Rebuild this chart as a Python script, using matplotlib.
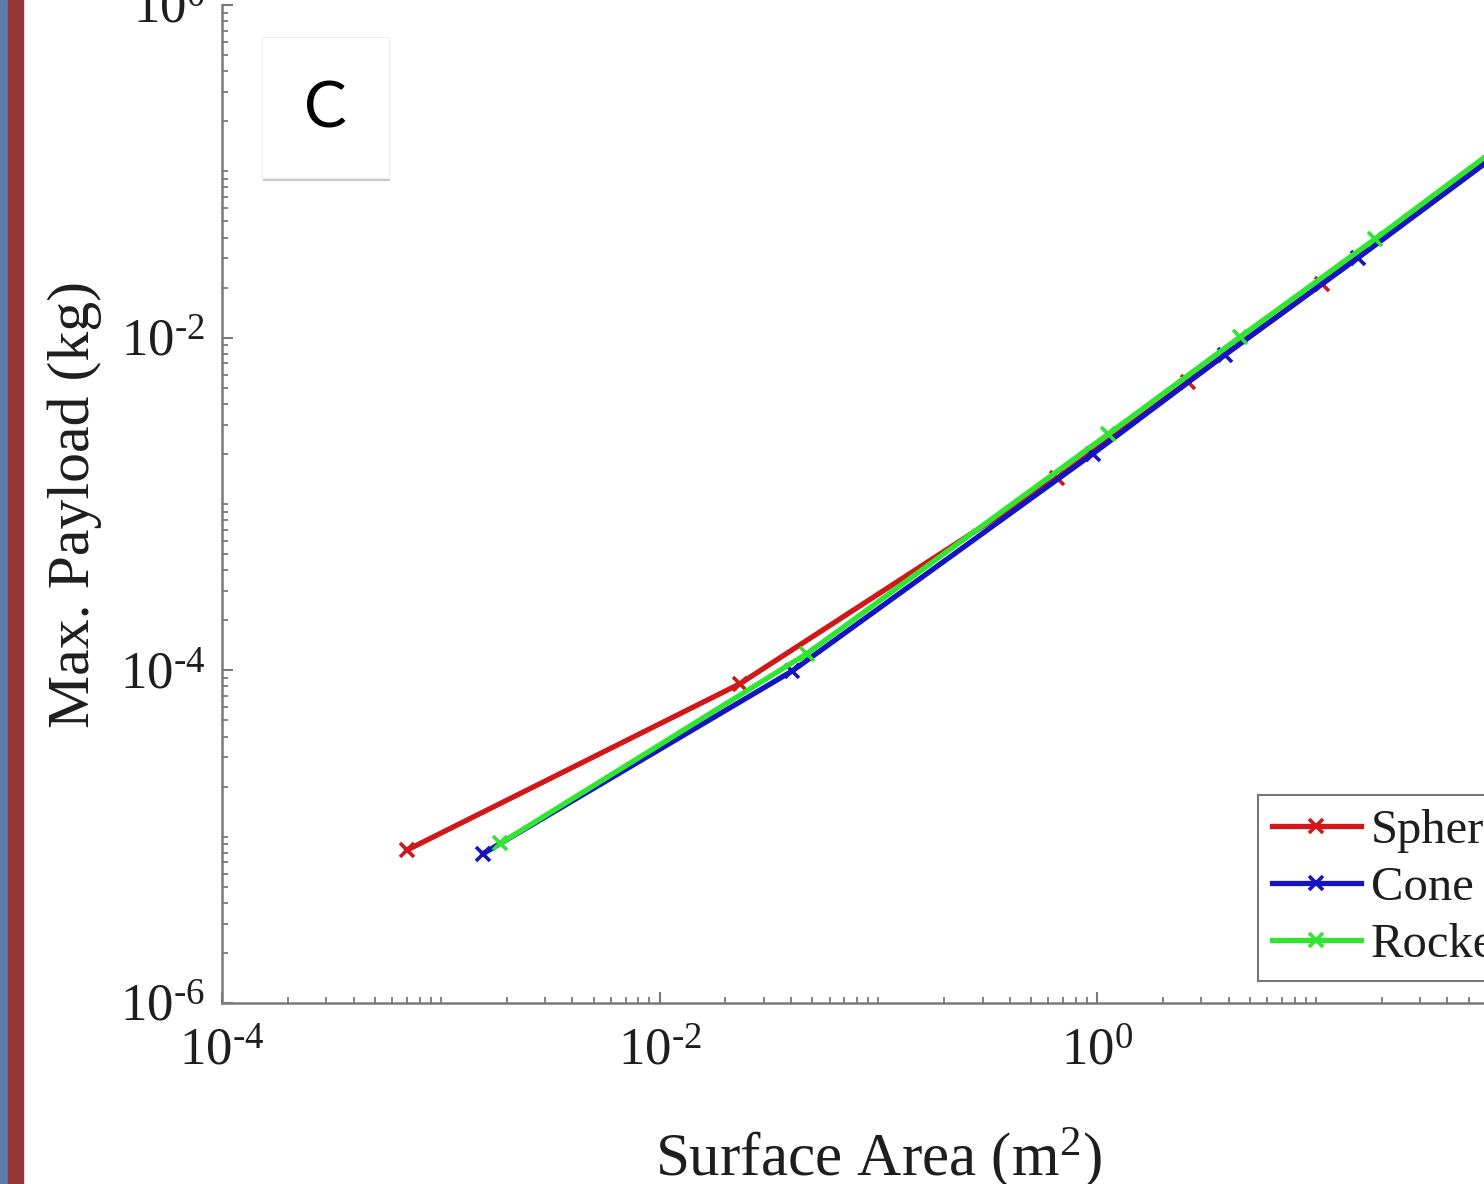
import matplotlib
matplotlib.use("Agg")
import matplotlib.pyplot as plt
from matplotlib.patches import Rectangle
from matplotlib.ticker import FixedLocator, FixedFormatter, LogLocator, NullFormatter

# ---- data ----
series_names = ["Sphere", "Cone", "Rocket"]
sphere_area = [7.0e-4, 0.0233, 0.656, 2.61, 10.7, 70.0]
sphere_payload = [8.3e-6, 8.3e-5, 1.43e-3, 5.44e-3, 0.0211, 0.133]
cone_area = [1.56e-3, 0.0404, 0.96, 3.85, 15.6, 70.0]
cone_payload = [7.9e-6, 9.9e-5, 2.01e-3, 7.91e-3, 0.0302, 0.131]
rocket_area = [1.87e-3, 0.0472, 1.12, 4.51, 18.7, 70.0]
rocket_payload = [9.1e-6, 1.26e-4, 2.62e-3, 0.0101, 0.0393, 0.1435]

HY = "\u2010"
x_ticks = [1e-4, 1e-2, 1e0]
x_tick_labels = [r"$\mathregular{10^{%s4}}$" % HY, r"$\mathregular{10^{%s2}}$" % HY, r"$\mathregular{10^{0}}$"]
y_ticks = [1e-6, 1e-4, 1e-2, 1e0]
y_tick_labels = [r"$\mathregular{10^{%s6}}$" % HY, r"$\mathregular{10^{%s4}}$" % HY,
                 r"$\mathregular{10^{%s2}}$" % HY, r"$\mathregular{10^{0}}$"]

plt.rcParams["font.family"] = ["Liberation Serif", "DejaVu Serif"]
plt.rcParams["mathtext.fontset"] = "custom"
plt.rcParams["mathtext.rm"] = "Liberation Serif"
plt.rcParams["mathtext.it"] = "Liberation Serif:italic"
plt.rcParams["mathtext.bf"] = "Liberation Serif:bold"

W, H = 1484, 1184
fig = plt.figure(figsize=(W / 100, H / 100), dpi=100)
fig.patch.set_facecolor("white")

# axes: left spine at x=222, bottom at y=1003, 1e0 at y=5, 1e2 at x=1534
left = 222 / W
bottom = 1 - 1003 / H
width = (1534.5 - 222) / W
height = (1003 - 5) / H
ax = fig.add_axes([left, bottom, width, height])
ax.set_xscale("log")
ax.set_yscale("log")
ax.set_xlim(1e-4, 1e2)
ax.set_ylim(1e-6, 1e0)

red = "#D01818"
blue = "#1414C0"
green = "#30E630"
lw = 3.8
ms = 10
mew = 2.6
ax.plot(sphere_area, sphere_payload, color=red, lw=lw, marker="x", ms=ms, mew=mew, label=series_names[0], zorder=3)
ax.plot(cone_area, cone_payload, color=blue, lw=lw, marker="x", ms=ms, mew=mew, label=series_names[1], zorder=4)
ax.plot(rocket_area, rocket_payload, color=green, lw=lw, marker="x", ms=ms, mew=mew, label=series_names[2], zorder=5)

for s in ["top", "right"]:
    ax.spines[s].set_visible(False)
for s in ["left", "bottom"]:
    ax.spines[s].set_color("#7a7a7a")
    ax.spines[s].set_linewidth(1.8)

ax.xaxis.set_major_locator(FixedLocator(x_ticks))
ax.xaxis.set_major_formatter(FixedFormatter(x_tick_labels))
ax.yaxis.set_major_locator(FixedLocator(y_ticks))
ax.yaxis.set_major_formatter(FixedFormatter(y_tick_labels))
ax.xaxis.set_minor_locator(LogLocator(base=10, subs=tuple(range(1, 10)), numticks=50))
ax.yaxis.set_minor_locator(LogLocator(base=10, subs=tuple(range(1, 10)), numticks=50))
ax.xaxis.set_minor_formatter(NullFormatter())
ax.yaxis.set_minor_formatter(NullFormatter())

ax.tick_params(which="major", direction="in", length=8, width=1.5, color="#7a7a7a",
               labelsize=38, labelcolor="#1e1e1e")
ax.tick_params(which="minor", direction="in", length=4, width=1.3, color="#7a7a7a")
ax.tick_params(axis="x", which="major", pad=18)
ax.tick_params(axis="y", which="major", pad=12)

ax.set_xlabel(r"Surface Area (m$\mathregular{^{2}}$)", fontsize=44, color="#1e1e1e", labelpad=36)
ax.set_ylabel("Max. Payload (kg)", fontsize=43, color="#1e1e1e")
ax.yaxis.set_label_coords((102 - 222) / (1534.5 - 222), 0.5)

leg = fig.legend(loc="lower left", bbox_to_anchor=(1258 / W, 1 - 981 / H), fontsize=35,
                 frameon=True, fancybox=False, framealpha=1, edgecolor="#777777",
                 borderaxespad=0, handlelength=1.84, handletextpad=0.2, borderpad=0.28,
                 labelspacing=0.27)
leg.get_frame().set_linewidth(1.5)
for t in leg.get_texts():
    t.set_color("#1e1e1e")

# left decorative stripes
fig.patches.append(Rectangle((0, 0), 8 / W, 1, transform=fig.transFigure, color="#5f7daa", zorder=10))
fig.patches.append(Rectangle((8 / W, 0), 15 / W, 1, transform=fig.transFigure, color="#963737", zorder=10))

# "C" panel box with soft shadow
bx0, by0, bx1, by1 = 262, 37, 389, 178
fig.patches.append(Rectangle((bx0 / W + 1 / W, 1 - (by1 + 3) / H), (bx1 - bx0) / W, (by1 - by0) / H,
                             transform=fig.transFigure, facecolor="#c8c8c8", edgecolor="none", zorder=11))
fig.patches.append(Rectangle((bx0 / W, 1 - by1 / H), (bx1 - bx0) / W, (by1 - by0) / H,
                             transform=fig.transFigure, facecolor="white", edgecolor="#eeeeee", lw=0.8, zorder=12))
fig.text((bx0 + bx1) / 2 / W, 1 - 110 / H, "C", fontsize=46, family="Lato", color="black",
         ha="center", va="center", zorder=13)

fig.savefig("out.png", dpi=100)
